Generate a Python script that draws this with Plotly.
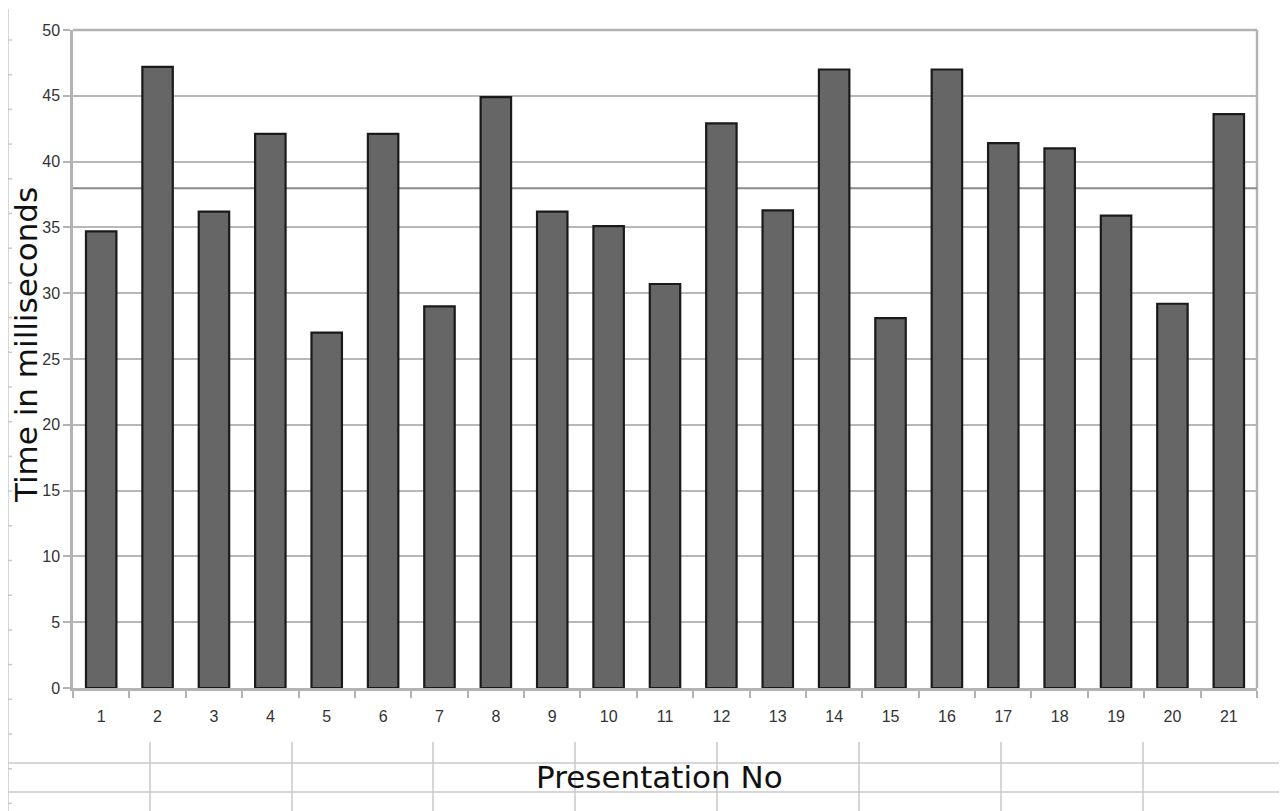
import plotly.graph_objects as go

presentations = [str(i) for i in range(1, 22)]
times_ms = [34.7, 47.2, 36.2, 42.1, 27.0, 42.1, 29.0, 44.9, 36.2, 35.1, 30.7,
            42.9, 36.3, 47.0, 28.1, 47.0, 41.4, 41.0, 35.9, 29.2, 43.6]
y_ticks = [0, 5, 10, 15, 20, 25, 30, 35, 40, 45, 50]
mean_time = sum(times_ms) / len(times_ms)

OFF = 8  # page body margin
W, H = 1287 - OFF, 811 - OFF
L, R, T, B = 73 - OFF, 30, 30 - OFF, 123
PW, PH = W - L - R, H - T - B


def px(x):
    return (x - OFF - L) / PW


def py(y):
    return (H - B - (y - OFF)) / PH


fig = go.Figure()
fig.add_trace(go.Bar(
    x=presentations, y=times_ms,
    marker=dict(color="#666666", line=dict(color="#1a1a1a", width=2.2)),
    width=0.54,
))

shapes = []
grid_col = "#c8c8c8"
# spreadsheet-like background lines
shapes.append(dict(type="line", xref="paper", yref="paper", x0=px(8), x1=px(8), y0=py(9), y1=py(811), line=dict(color=grid_col, width=1.5), layer="below"))
shapes.append(dict(type="line", xref="paper", yref="paper", x0=px(1285), x1=px(1285), y0=py(9), y1=py(811), line=dict(color=grid_col, width=1.5), layer="below"))
for yy in [763, 792]:
    shapes.append(dict(type="line", xref="paper", yref="paper", x0=px(8), x1=px(1287), y0=py(yy), y1=py(yy), line=dict(color=grid_col, width=1.5), layer="below"))
for xx in [150, 292, 433, 575, 717, 859, 1001, 1143]:
    shapes.append(dict(type="line", xref="paper", yref="paper", x0=px(xx), x1=px(xx), y0=py(742), y1=py(811), line=dict(color=grid_col, width=1.5), layer="below"))
k = 0
while 40 + 34.7 * k < 811:
    yy = 40 + 34.7 * k
    shapes.append(dict(type="line", xref="paper", yref="paper", x0=px(8), x1=px(12), y0=py(yy), y1=py(yy), line=dict(color=grid_col, width=1.5), layer="below"))
    shapes.append(dict(type="line", xref="paper", yref="paper", x0=px(1281), x1=px(1287), y0=py(yy), y1=py(yy), line=dict(color=grid_col, width=1.5), layer="below"))
    k += 1
# plot frame top/right
shapes.append(dict(type="line", xref="paper", yref="paper", x0=0, x1=1, y0=1, y1=1, line=dict(color="#b3b3b3", width=2.5), layer="below"))
shapes.append(dict(type="line", xref="paper", yref="paper", x0=1, x1=1, y0=0, y1=1, line=dict(color="#b3b3b3", width=2.5), layer="below"))
# mean line
shapes.append(dict(type="line", xref="paper", yref="y", x0=0, x1=1, y0=mean_time, y1=mean_time, line=dict(color="#8a8a8a", width=2), layer="below"))

fig.update_layout(
    width=W, height=H,
    margin=dict(l=L, r=R, t=T, b=B),
    paper_bgcolor="white", plot_bgcolor="white",
    showlegend=False,
    bargap=0.45,
    shapes=shapes,
    font=dict(family="Liberation Sans, Arial, sans-serif", color="#333333", size=16),
    xaxis=dict(
        type="category", tickson="boundaries", ticks="outside", ticklen=7,
        tickcolor="#b3b3b3", tickwidth=2, showline=True, linecolor="#b3b3b3", linewidth=2.5,
        showgrid=False, tickfont=dict(size=16, color="#333333"), ticklabelstandoff=12,
    ),
    yaxis=dict(
        range=[0, 50], tickvals=y_ticks, ticks="outside", ticklen=7,
        tickcolor="#b3b3b3", tickwidth=2, showline=True, linecolor="#b3b3b3", linewidth=2.5,
        showgrid=True, gridcolor="#b8b8b8", gridwidth=2, zeroline=False,
        tickfont=dict(size=16, color="#333333"),
    ),
    annotations=[
        dict(text="Time in milliseconds", textangle=-90, xref="paper", yref="paper",
             x=px(26), y=py(345), xanchor="center", yanchor="middle", showarrow=False,
             font=dict(family="DejaVu Sans", size=31, color="#111111")),
        dict(text="Presentation No", xref="paper", yref="paper",
             x=px(659), y=py(777), xanchor="center", yanchor="middle", showarrow=False,
             font=dict(family="DejaVu Sans", size=31, color="#111111")),
    ],
)

fig.write_html("out.html")
